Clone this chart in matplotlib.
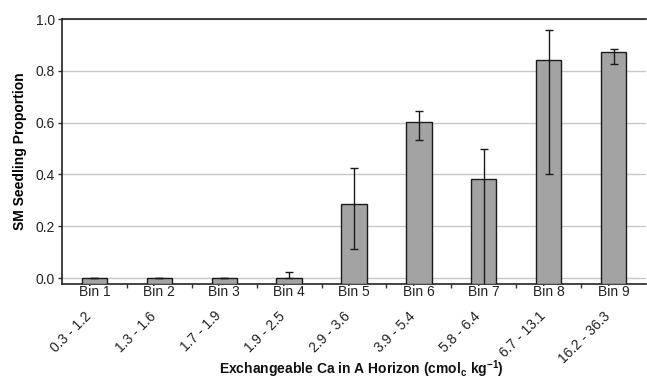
import matplotlib
matplotlib.use("Agg")
import matplotlib.pyplot as plt
import numpy as np

plt.rcParams['font.family'] = ['Liberation Sans', 'DejaVu Sans']
plt.rcParams['mathtext.fontset'] = 'custom'
plt.rcParams['mathtext.rm'] = 'Liberation Sans'
plt.rcParams['mathtext.bf'] = 'Liberation Sans:bold'

bins = ["Bin 1", "Bin 2", "Bin 3", "Bin 4", "Bin 5", "Bin 6", "Bin 7", "Bin 8", "Bin 9"]
ranges = ["0.3 - 1.2", "1.3 - 1.6", "1.7 - 1.9", "1.9 - 2.5", "2.9 - 3.6",
          "3.9 - 5.4", "5.8 - 6.4", "6.7 - 13.1", "16.2 - 36.3"]
values = [0.0, 0.0, 0.0, 0.0, 0.285, 0.601, 0.383, 0.842, 0.873]
err_low = [0.0, 0.0, 0.0, 0.0, 0.174, 0.068, 0.45, 0.442, 0.047]
err_high = [0.0, 0.0, 0.0, 0.022, 0.139, 0.044, 0.115, 0.114, 0.011]

W, H = 647, 381
fig = plt.figure(figsize=(W / 100, H / 100), dpi=100)
ax = fig.add_axes([62 / W, 1 - 284 / H, 584 / W, 265 / H])

ymin = -0.023
x = np.arange(len(bins))
heights = [v - ymin for v in values]
ax.bar(x, heights, bottom=ymin, width=0.39, color='#a3a3a3', edgecolor='#1a1a1a',
       linewidth=1.0, zorder=3)
ax.errorbar(x, values, yerr=[err_low, err_high], fmt='none', ecolor='#1a1a1a',
            elinewidth=1.0, capsize=3.0, capthick=1.0, zorder=4)

ax.set_xlim(-0.5, len(bins) - 0.5)
ax.set_ylim(ymin, 1.0)
ax.set_yticks(np.arange(0, 1.01, 0.2))
ax.set_yticklabels([f"{v:.1f}" for v in np.arange(0, 1.01, 0.2)], fontsize=10, color='#222222')
ax.yaxis.grid(True, color='#c8c8c8', linewidth=1.0, zorder=0)
ax.set_axisbelow(True)

ax.set_xticks(x)
ax.set_xticklabels(bins, fontsize=10, color='#222222')
ax.tick_params(axis='x', which='major', length=0, pad=1)
ax.set_xticks(np.arange(0.5, len(bins) - 1, 1.0), minor=True)
ax.tick_params(axis='x', which='minor', length=3, width=1, direction='out', color='#333333')
ax.tick_params(axis='y', length=3, width=1, direction='out', color='#333333', pad=2)

for s in ['left', 'bottom', 'top']:
    ax.spines[s].set_color('#222222')
    ax.spines[s].set_linewidth(1.2)
ax.spines['right'].set_visible(False)

for xi, r in zip(x, ranges):
    ax.annotate(r, xy=(xi, 0), xycoords=('data', 'axes fraction'),
                xytext=(-0.5, -18), textcoords='offset points',
                rotation=45, ha='right', va='top', fontsize=10, color='#222222')

ax.set_ylabel("SM Seedling Proportion", fontsize=10, fontweight='bold', labelpad=6)
fig.text(361 / W, 1 - 374 / H,
         r"Exchangeable Ca in A Horizon (cmol$_\mathbf{c}$ kg$^\mathbf{-1}$)",
         ha='center', va='baseline', fontsize=10, fontweight='bold', color='#111111')

fig.savefig("out.png", dpi=100)
